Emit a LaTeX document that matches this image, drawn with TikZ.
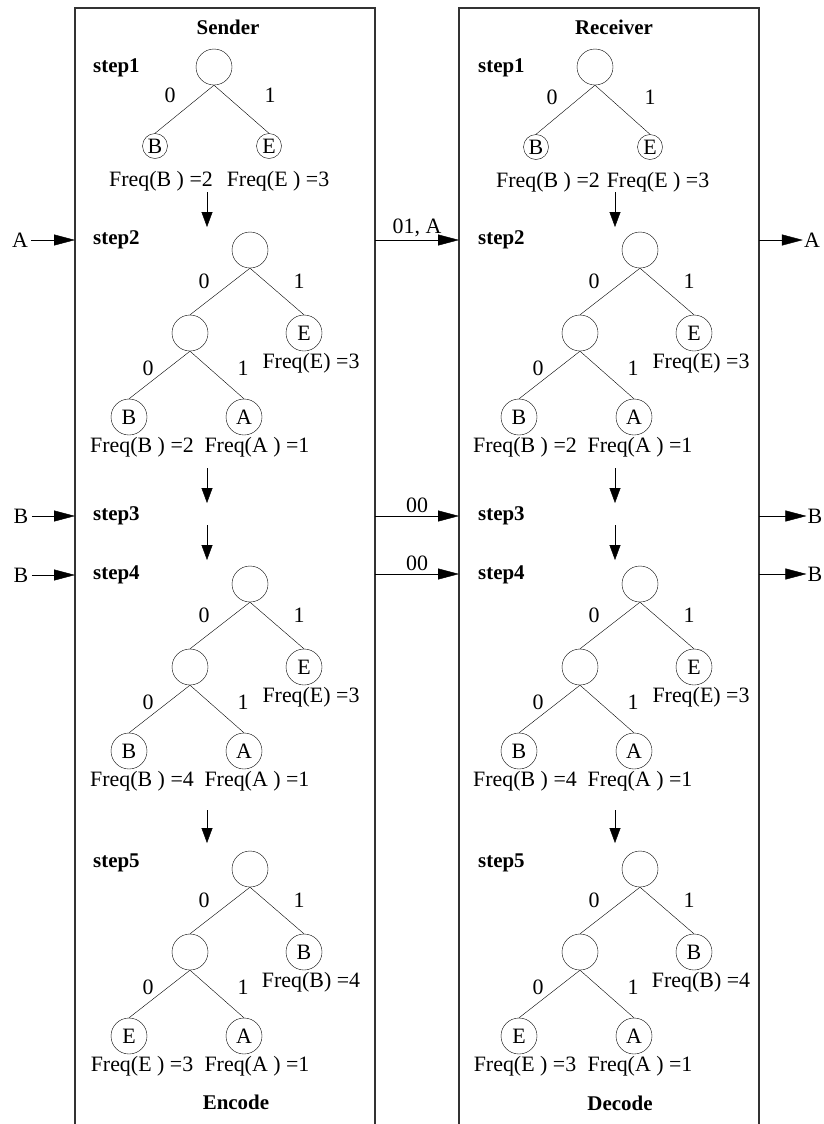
\documentclass[tikz,border=0pt]{standalone}
\usepackage{fontspec}
\setmainfont{Liberation Serif}
\usepackage{tikz}
\usetikzlibrary{arrows.meta}
\usetikzlibrary{positioning}
\tikzset{every node/.style = {font=\fontsize{22}{26}\selectfont},
         hnode/.style = {draw, circle, minimum size=36bp, inner sep=0pt},
         small/.style = {hnode, minimum size=25bp},
         freq/.style = {inner sep=0pt},
         title/.style = {font=\fontsize{21}{25}\selectfont\bfseries},
         steplabel/.style = {anchor=west, inner sep=0pt,
                             font=\fontsize{21}{25}\selectfont\bfseries},
         flow/.style = {-{Triangle[length=21bp,width=11bp]}},
         next/.style = {-{Triangle[length=15bp,width=11bp]}},
         box/.style = {line width=1.2bp, draw=black!80}}

% one three-leaf tree: #1 name, #2 root, #3/#4 right leaf and count,
% #5/#6 and #7/#8 the two lower leaves, #9 shift of the lower counts
\newcommand{\hufftree}[9]{
  \begin{scope}[shift={#2}]
    \node [hnode] (#1r) at (0,0) {};
    \node [hnode] (#1i) at (-60,83) {};
    \node [hnode] (#1x) at (54,83) {#3};
    \node [hnode] (#1y) at (-121,167) {#5};
    \node [hnode] (#1z) at (-6,167) {#7};
    \draw (#1r.south) -- (#1i.north) (#1r.south) -- (#1x.north);
    \draw (#1i.south) -- (#1y.north) (#1i.south) -- (#1z.north);
    \node (#1b0) at (-46,31) {0};
    \node (#1b1) at (49,31) {1};
    \node (#1b00) at (-102,118) {0};
    \node (#1b01) at (-7,118) {1};
    \node [freq, below=2bp of #1x, xshift=7bp] (#1fx) {Freq(#3) =#4};
    \node [freq, below=2bp of #1y, xshift=#9] (#1fy) {Freq(#5 ) =#6};
    \node [freq, below=2bp of #1z, xshift=#9] (#1fz) {Freq(#7 ) =#8};
  \end{scope}
}

\begin{document}
\begin{tikzpicture}[x=1bp, y=-1bp]
  \useasboundingbox (0,0) rectangle (824,1124);

  % the two sides
  \draw [box] (75,1124) -- (75,8) -- (375,8) -- (375,1124);
  \draw [box] (459,1124) -- (459,8) -- (759,8) -- (759,1124);
  \node [title] (sender) at (228,27) {Sender};
  \node [title] (receiver) at (614,27) {Receiver};
  \node [title] (encode) at (236,1102) {Encode};
  \node [title] (decode) at (620,1103) {Decode};

  \foreach \n/\y in {1/68, 2/240, 3/516, 4/575, 5/863} {
    \node [steplabel] (s-step\n) at (93,\y) {step\n};
    \node [steplabel] (r-step\n) at (478,\y) {step\n};
  }

  % step 1
  \node [hnode] (s1r) at (214,67) {};
  \node [small] (s1b) at (155,146) {B};
  \node [small] (s1e) at (269,146) {E};
  \draw (s1r.south) -- (s1b.north) (s1r.south) -- (s1e.north);
  \node (s1b0) at (170,95) {0};
  \node (s1b1) at (270,95) {1};
  \node [freq, below=12bp of s1b, xshift=6bp] (s1fb) {Freq(B ) =2};
  \node [freq, below=12bp of s1e, xshift=9bp] (s1fe) {Freq(E ) =3};

  \node [hnode] (r1r) at (595,67) {};
  \node [small] (r1b) at (536,147) {B};
  \node [small] (r1e) at (650,147) {E};
  \draw (r1r.south) -- (r1b.north) (r1r.south) -- (r1e.north);
  \node (r1b0) at (552,97) {0};
  \node (r1b1) at (650,97) {1};
  \node [freq, below=12bp of r1b, xshift=12bp] (r1fb) {Freq(B ) =2};
  \node [freq, below=12bp of r1e, xshift=8bp] (r1fe) {Freq(E ) =3};

  % steps 2, 4 and 5
  \hufftree{s2}{(250,250)}{E}{3}{B}{2}{A}{1}{13bp}
  \hufftree{s4}{(250,584)}{E}{3}{B}{4}{A}{1}{13bp}
  \hufftree{s5}{(250,869)}{B}{4}{E}{3}{A}{1}{13bp}
  \hufftree{r2}{(640,250)}{E}{3}{B}{2}{A}{1}{6bp}
  \hufftree{r4}{(640,584)}{E}{3}{B}{4}{A}{1}{6bp}
  \hufftree{r5}{(640,869)}{B}{4}{E}{3}{A}{1}{6bp}

  % steps follow one another
  \foreach \s/\x in {s/207, r/615} {
    \foreach \n/\ya/\yb in {1/192/227, 2/468/503, 3/525/560, 4/810/843} {
      \coordinate (\s-a\n) at (\x,\ya);
      \coordinate (\s-b\n) at (\x,\yb);
      \draw [next] (\s-a\n) -- (\s-b\n);
    }
  }

  % symbols in
  \node (inA) at (20,240) {A};
  \node (inB3) at (21,516) {B};
  \node (inB4) at (21,575) {B};
  \coordinate (s-in2) at (75,240);
  \coordinate (s-in3) at (75,516);
  \coordinate (s-in4) at (75,575);
  \draw [flow] (inA) -- (s-in2);
  \draw [flow] (inB3) -- (s-in3);
  \draw [flow] (inB4) -- (s-in4);

  % bits sent across
  \coordinate (s-out2) at (375,240);
  \coordinate (r-in2) at (459,240);
  \coordinate (s-out3) at (375,516);
  \coordinate (r-in3) at (459,516);
  \coordinate (s-out4) at (375,574);
  \coordinate (r-in4) at (459,574);
  \draw [flow] (s-out2) -- node [above] (msg2) {01, A} (r-in2);
  \draw [flow] (s-out3) -- node [above] (msg3) {00} (r-in3);
  \draw [flow] (s-out4) -- node [above] (msg4) {00} (r-in4);

  % symbols out
  \coordinate (r-out2) at (759,240);
  \coordinate (r-out3) at (759,516);
  \coordinate (r-out4) at (759,574);
  \node [inner sep=1bp] (outA) at (812,240) {A};
  \node [inner sep=1bp] (outB3) at (815,516) {B};
  \node [inner sep=1bp] (outB4) at (815,574) {B};
  \draw [flow] (r-out2) -- (outA);
  \draw [flow] (r-out3) -- (outB3);
  \draw [flow] (r-out4) -- (outB4);
\end{tikzpicture}
\end{document}
